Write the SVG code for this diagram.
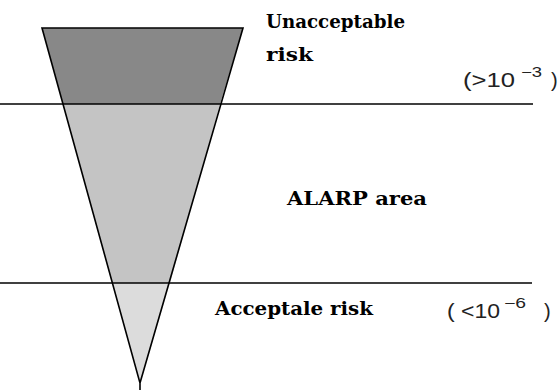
<svg xmlns="http://www.w3.org/2000/svg" width="559" height="390" viewBox="0 0 559 390">
<style>
.edge{stroke:#000;stroke-width:1.6;fill:none}
.hl{stroke:#000;stroke-width:1.6}
.lbl{font-family:"DejaVu Serif","Liberation Serif",serif;font-weight:bold;font-size:18px;fill:#000}
.num{font-family:"Liberation Sans",Arial,sans-serif;font-size:20px;fill:#222}
.sup{font-family:"Liberation Sans",Arial,sans-serif;font-size:14px;fill:#222}
</style>
<rect width="559" height="390" fill="#fff"/>
<g id="unacceptable-zone">
<polygon points="42,28 243,28 220,104 63,104" fill="#888888"/>
</g>
<g id="alarp-zone">
<polygon points="63,104 220,104 170,283 112,283" fill="#c4c4c4"/>
</g>
<g id="acceptable-zone">
<polygon points="112,283 170,283 140,383" fill="#dcdcdc"/>
</g>
<g id="outline">
<polyline class="edge" points="140,390 140,383 42,28 243,28 140,383"/>
</g>
<g id="connectors">
<line class="hl" x1="0" y1="104" x2="533" y2="104"/>
<line class="hl" x1="0" y1="283" x2="532" y2="283"/>
</g>
<g id="labels">
<text class="lbl" x="266" y="28" textLength="139" lengthAdjust="spacingAndGlyphs">Unacceptable</text>
<text class="lbl" x="266" y="61" textLength="47" lengthAdjust="spacingAndGlyphs">risk</text>
<text class="lbl" x="287" y="205" textLength="140" lengthAdjust="spacingAndGlyphs">ALARP area</text>
<text class="lbl" x="215" y="315" textLength="158" lengthAdjust="spacingAndGlyphs">Acceptale risk</text>
</g>
<g id="threshold-high">
<text class="num" x="463" y="87" textLength="52" lengthAdjust="spacingAndGlyphs">(&gt;10</text>
<text class="sup" x="521" y="77" textLength="21" lengthAdjust="spacingAndGlyphs">−3</text>
<text class="num" x="551" y="87">)</text>
</g>
<g id="threshold-low">
<text class="num" x="447" y="318" textLength="53" lengthAdjust="spacingAndGlyphs">( &lt;10</text>
<text class="sup" x="504" y="308" textLength="22" lengthAdjust="spacingAndGlyphs">−6</text>
<text class="num" x="544" y="318">)</text>
</g>
</svg>
